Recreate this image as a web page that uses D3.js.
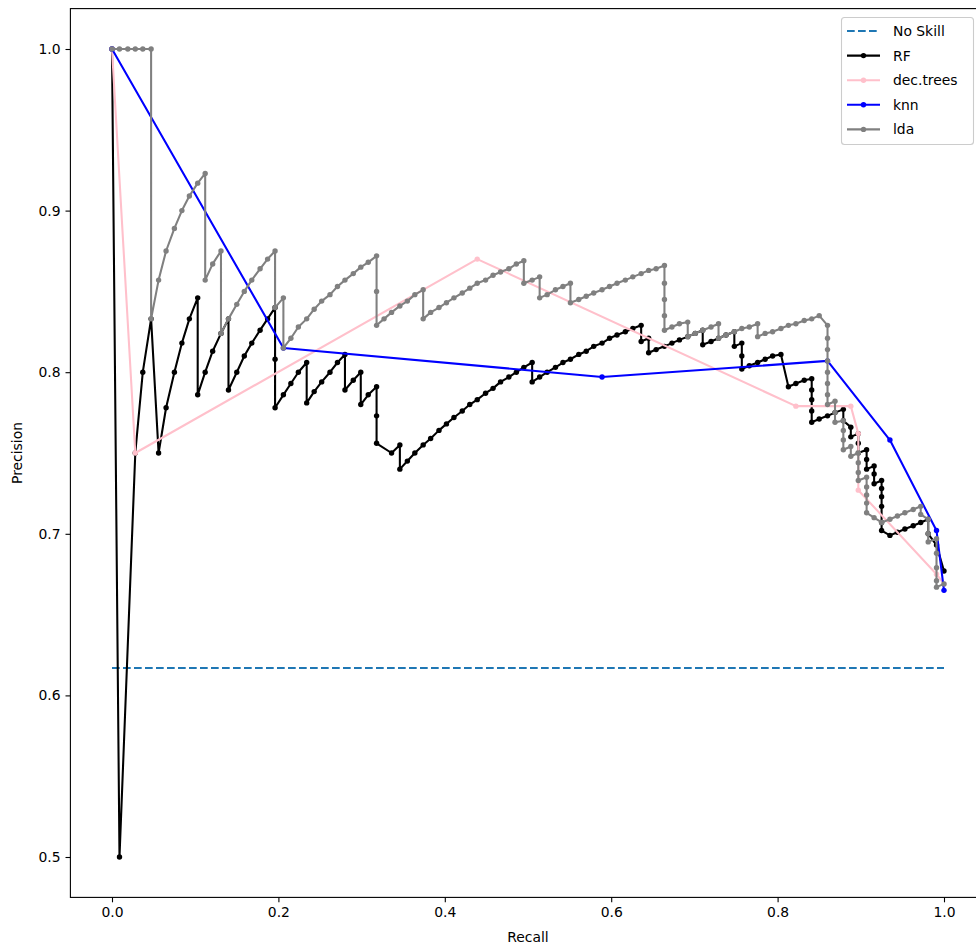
<!DOCTYPE html>
<html>
<head>
<meta charset="utf-8">
<script src="https://cdn.jsdelivr.net/npm/d3@7"></script>
<style>
  body { margin: 0; background: #fff; }
  svg { display: block; }
  text { font-family: "DejaVu Sans", sans-serif; fill: #000; }
</style>
</head>
<body>
<svg id="chart" width="976" height="947"></svg>
<script>
// Axis ticks
const xTicks = [0.0, 0.2, 0.4, 0.6, 0.8, 1.0];
const yTicks = [0.5, 0.6, 0.7, 0.8, 0.9, 1.0];

// Baseline: share of positives in the test set
const noSkillPrecision = 0.617;

// Random forest precision-recall curve
const rfRecall = [0, .009, .028, .037, .047, .056, .065, .075, .084, .093, .103,
  .103, .112, .121, .131, .140,
  .140, .150, .159, .168, .178, .187, .196,
  .196, .196,
  .206, .215, .224, .234,
  .234,
  .243, .252, .262, .271, .280,
  .280,
  .290, .299,
  .299,
  .308, .318,
  .318, .318,
  .336, .346,
  .346,
  .355, .364, .374, .383, .393, .402, .411, .421, .430, .439, .449, .458, .467, .477, .486, .495, .505,
  .505,
  .514, .523, .533, .542, .551, .561, .570, .579, .589, .598, .607, .617, .626, .636,
  .636, .645, .645,
  .654, .664, .673, .682, .692, .701, .710, .710, .720, .729, .738, .748,
  .748, .757, .757, .757,
  .766, .776, .785, .794, .804,
  .813,
  .822, .832, .841,
  .841, .841, .841, .841,
  .850, .860, .869, .879,
  .879, .888, .888, .897, .897, .897, .907, .907, .907, .916, .916, .916,
  .925, .925, .925, .925, .925, .925, .935, .944, .953, .963, .972, .981, .981, .991, 1.0];
const rfPrecision = [1.0, .5, .75, .8, .833, .75, .778, .8, .818, .833, .846,
  .786, .8, .813, .824, .833,
  .789, .8, .810, .818, .826, .833, .84,
  .808, .778,
  .786, .793, .8, .806,
  .781,
  .788, .794, .8, .806, .811,
  .789,
  .795, .8,
  .780,
  .786, .791,
  .773, .756,
  .75, .755,
  .74,
  .745, .75, .755, .759, .764, .768, .772, .776, .780, .783, .787, .790, .794, .797, .8, .803, .806,
  .794,
  .797, .8, .803, .806, .808, .811, .813, .816, .818, .821, .823, .825, .827, .829,
  .819, .821, .812,
  .814, .816, .818, .820, .822, .824, .826, .817, .819, .821, .823, .825,
  .816, .818, .81, .802,
  .804, .806, .808, .810, .811,
  .791,
  .793, .795, .796,
  .789, .783, .776, .769,
  .771, .773, .775, .777,
  .770, .766, .760, .762, .756, .75, .752, .746, .740, .742, .737, .731,
  .733, .728, .723, .717, .707, .702, .699, .701, .703, .705, .707, .709, .7, .693, .677];

// Decision tree precision-recall curve
const treeRecall = [0, .028, .439, .822, .888, .897, .897, .991, 1.0];
const treePrecision = [1.0, .75, .870, .779, .779, .762, .727, .675, .669];

// k-nearest neighbours precision-recall curve
const knnRecall = [0, .206, .589, .860, .935, .991, 1.0];
const knnPrecision = [1.0, .815, .797, .807, .758, .702, .665];

// Linear discriminant analysis precision-recall curve
const ldaRecall = [0, .009, .019, .028, .037, .047, .047,
  .056, .065, .075, .084, .093, .103, .112,
  .112,
  .121, .131,
  .131,
  .140, .150, .159, .168, .178, .187, .196,
  .196, .206, .206,
  .215, .224, .234, .243, .252, .262, .271, .280, .290, .299, .308, .318,
  .318, .318,
  .327, .336, .346, .355, .364, .374,
  .374,
  .383, .393, .402, .411, .421, .430, .439, .449, .458, .467, .477, .486, .495,
  .495,
  .505, .514,
  .514,
  .523, .533, .542, .551,
  .551,
  .561, .570, .579, .589, .598, .607, .617, .626, .636, .645, .654, .664,
  .664, .664, .664, .664,
  .673, .682, .692,
  .692,
  .701, .710, .720, .729,
  .729,
  .738, .748, .757, .766, .776,
  .776,
  .785, .794, .804, .813, .822, .832, .841, .850,
  .860,
  .860, .860, .860, .860, .860, .860, .860,
  .869, .869, .869,
  .879, .879, .879, .879,
  .888, .888,
  .897, .897, .897, .897,
  .907, .907, .907, .907, .907,
  .916,
  .925,
  .935, .944, .953, .963, .972,
  .972,
  .981, .981, .981,
  .991, .991, .991, .991, .991,
  1.0];
const ldaPrecision = [1, 1, 1, 1, 1, 1, .833,
  .857, .875, .889, .9, .909, .917, .923,
  .857,
  .867, .875,
  .824,
  .833, .842, .85, .857, .864, .870, .875,
  .84, .846, .815,
  .821, .828, .833, .839, .844, .848, .853, .857, .861, .865, .868, .872,
  .85, .829,
  .833, .837, .841, .844, .848, .851,
  .833,
  .837, .84, .843, .846, .849, .852, .855, .857, .860, .862, .864, .867, .869,
  .855,
  .857, .859,
  .846,
  .848, .851, .853, .855,
  .843,
  .845, .847, .849, .851, .853, .855, .857, .859, .861, .863, .864, .866,
  .855, .845, .835, .826,
  .828, .830, .831,
  .822,
  .824, .826, .828, .830,
  .821,
  .823, .825, .827, .828, .83,
  .822,
  .824, .825, .827, .829, .830, .832, .833, .835,
  .829,
  .821, .814, .807, .8, .793, .786, .780,
  .782, .775, .769,
  .770, .764, .758, .752,
  .754, .748,
  .75, .744, .738, .733,
  .735, .729, .724, .719, .713,
  .710,
  .707,
  .709, .711, .713, .715, .717,
  .712,
  .709, .7, .695,
  .697, .688, .679, .671, .667,
  .669];

const seriesNames = ["RF", "dec.trees", "knn", "lda"];
const seriesColors = ["#000000", "#ffc0cb", "#0000ff", "#808080"];
const seriesRecall = [rfRecall, treeRecall, knnRecall, ldaRecall];
const seriesPrecision = [rfPrecision, treePrecision, knnPrecision, ldaPrecision];
const noSkillColor = "#1f77b4";

const svg = d3.select("#chart");
const plot = { left: 70.4, right: 985.6, top: 8.6, bottom: 897.4 };

const x = d3.scaleLinear().domain([-0.05, 1.05]).range([plot.left, plot.right]);
const y = d3.scaleLinear().domain([0.475, 1.025]).range([plot.bottom, plot.top]);

const lineW = 2.08;
const fontPx = 13.9;

svg.append("defs").append("clipPath").attr("id", "clip")
  .append("rect")
  .attr("x", plot.left).attr("y", plot.top)
  .attr("width", plot.right - plot.left).attr("height", plot.bottom - plot.top);

const g = svg.append("g").attr("clip-path", "url(#clip)");

// No-skill reference line
g.append("line")
  .attr("x1", x(0)).attr("x2", x(1))
  .attr("y1", y(noSkillPrecision)).attr("y2", y(noSkillPrecision))
  .attr("stroke", noSkillColor)
  .attr("stroke-width", lineW)
  .attr("stroke-dasharray", "7.7,3.3");

// Curves with point markers
const line = d3.line().x(d => x(d[0])).y(d => y(d[1]));
seriesNames.forEach((name, i) => {
  const pts = seriesRecall[i].map((r, k) => [r, seriesPrecision[i][k]]);
  const sg = g.append("g").attr("class", "series");
  sg.append("path")
    .attr("d", line(pts))
    .attr("fill", "none")
    .attr("stroke", seriesColors[i])
    .attr("stroke-width", lineW)
    .attr("stroke-linejoin", "round");
  sg.selectAll("circle").data(pts).join("circle")
    .attr("cx", d => x(d[0]))
    .attr("cy", d => y(d[1]))
    .attr("r", 2.7)
    .attr("fill", seriesColors[i]);
});

// Axes frame
svg.append("rect")
  .attr("x", plot.left).attr("y", plot.top)
  .attr("width", plot.right - plot.left).attr("height", plot.bottom - plot.top)
  .attr("fill", "none").attr("stroke", "#000").attr("stroke-width", 1.1);

// X axis
const xAxis = d3.axisBottom(x).tickValues(xTicks).tickFormat(d3.format(".1f"))
  .tickSizeInner(4.9).tickSizeOuter(0).tickPadding(4.9);
const gx = svg.append("g").attr("transform", `translate(0,${plot.bottom})`).call(xAxis);
gx.select(".domain").remove();
gx.selectAll(".tick line").attr("stroke", "#000").attr("stroke-width", 1.1);
gx.selectAll(".tick text").attr("font-size", fontPx).attr("font-family", "DejaVu Sans").attr("fill", "#000");

// Y axis
const yAxis = d3.axisLeft(y).tickValues(yTicks).tickFormat(d3.format(".1f"))
  .tickSizeInner(4.9).tickSizeOuter(0).tickPadding(4.9);
const gy = svg.append("g").attr("transform", `translate(${plot.left},0)`).call(yAxis);
gy.select(".domain").remove();
gy.selectAll(".tick line").attr("stroke", "#000").attr("stroke-width", 1.1);
gy.selectAll(".tick text").attr("font-size", fontPx).attr("font-family", "DejaVu Sans").attr("fill", "#000");

// Axis titles
svg.append("text")
  .attr("x", (plot.left + plot.right) / 2).attr("y", 942)
  .attr("text-anchor", "middle").attr("font-size", fontPx)
  .text("Recall");
svg.append("text")
  .attr("transform", `translate(22,${(plot.top + plot.bottom) / 2}) rotate(-90)`)
  .attr("text-anchor", "middle").attr("font-size", fontPx)
  .text("Precision");

// Legend
const legend = svg.append("g");
legend.append("rect")
  .attr("x", 841.5).attr("y", 17.5).attr("width", 132).attr("height", 127)
  .attr("rx", 3).attr("fill", "#fff").attr("fill-opacity", 0.8)
  .attr("stroke", "#cccccc").attr("stroke-width", 1.1);

const legendNames = ["No Skill"].concat(seriesNames);
const legendColors = [noSkillColor].concat(seriesColors);
legendNames.forEach((name, i) => {
  const cy = 31 + i * 24.6;
  legend.append("line")
    .attr("x1", 847).attr("x2", 880).attr("y1", cy).attr("y2", cy)
    .attr("stroke", legendColors[i]).attr("stroke-width", lineW)
    .attr("stroke-dasharray", i === 0 ? "7.7,3.3" : null);
  if (i > 0) {
    legend.append("circle").attr("cx", 863.5).attr("cy", cy).attr("r", 2.7)
      .attr("fill", legendColors[i]);
  }
  legend.append("text")
    .attr("x", 893).attr("y", cy).attr("dy", "0.36em")
    .attr("font-size", fontPx)
    .text(name);
});
</script>
</body>
</html>
